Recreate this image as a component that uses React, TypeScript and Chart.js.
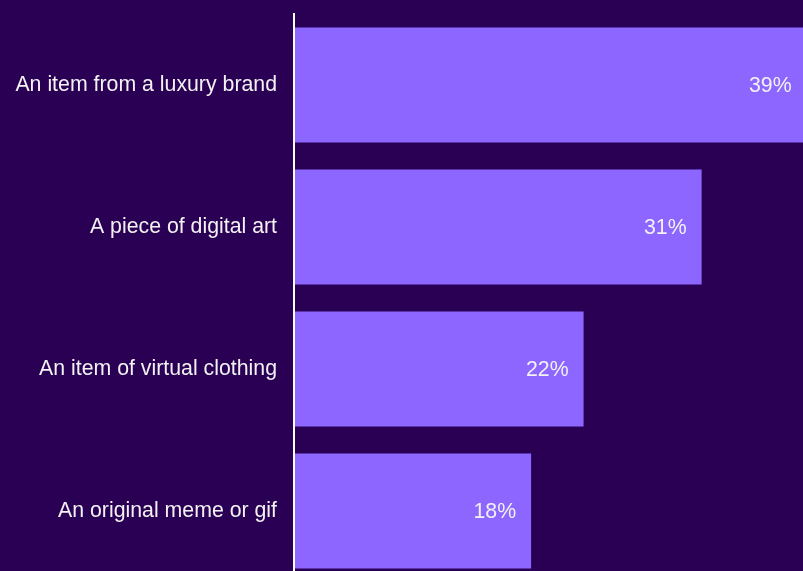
import React, { useEffect, useRef } from "react";
import { Chart, registerables } from "chart.js";

Chart.register(...registerables);

const categories = [
  "An item from a luxury brand",
  "A piece of digital art",
  "An item of virtual clothing",
  "An original meme or gif",
];
const values = [39, 31, 22, 18];
const valueLabels = ["39%", "31%", "22%", "18%"];

const BG = "#2a0055";
const BAR = "#8c66ff";
const TEXT = "#f2f2f2";
const FONT = "Liberation Sans, Arial, sans-serif";
const FONT_SIZE = 21.3;

const axisLinePlugin = {
  id: "axisLine",
  beforeDatasetsDraw(chart: any) {
    const ctx = chart.ctx;
    const area = chart.chartArea;
    ctx.save();
    ctx.strokeStyle = "#ffffff";
    ctx.lineWidth = 2;
    ctx.beginPath();
    ctx.moveTo(area.left - 1, area.top - 1);
    ctx.lineTo(area.left - 1, area.bottom);
    ctx.stroke();
    ctx.restore();
  },
};

const valueLabelPlugin = {
  id: "valueLabels",
  afterDatasetsDraw(chart: any) {
    const ctx = chart.ctx;
    const meta = chart.getDatasetMeta(0);
    ctx.save();
    ctx.fillStyle = TEXT;
    ctx.font = `${FONT_SIZE}px ${FONT}`;
    ctx.textAlign = "right";
    ctx.textBaseline = "middle";
    meta.data.forEach((bar: any, i: number) => {
      ctx.fillText(valueLabels[i], bar.x - 15, bar.y + 1.5);
    });
    ctx.restore();
  },
};

export default function App() {
  const ref = useRef<HTMLCanvasElement>(null);
  useEffect(() => {
    if (!ref.current) return;
    const chart = new Chart(ref.current, {
      type: "bar",
      data: {
        labels: categories,
        datasets: [
          {
            data: values,
            backgroundColor: BAR,
            borderWidth: 0,
            categoryPercentage: 0.81,
            barPercentage: 1,
          },
        ],
      },
      options: {
        indexAxis: "y",
        responsive: false,
        devicePixelRatio: 1,
        animation: false,
        layout: { padding: { top: 14, bottom: 18, left: 0, right: 0 } },
        plugins: { legend: { display: false }, tooltip: { enabled: false } },
        scales: {
          x: {
            display: false,
            min: 0,
            max: 40.1,
          },
          y: {
            grid: { display: false, drawTicks: false },
            border: { display: false },
            ticks: {
              color: TEXT,
              font: { family: FONT, size: FONT_SIZE },
              padding: 18,
            },
            afterFit(scale: any) {
              scale.width = 295;
              scale.paddingTop = 0;
              scale.paddingBottom = 0;
            },
          },
        },
      },
      plugins: [axisLinePlugin, valueLabelPlugin],
    });
    return () => chart.destroy();
  }, []);
  return (
    <div
      style={{
        position: "fixed",
        left: 0,
        top: 0,
        width: 803,
        height: 571,
        overflow: "hidden",
        background: BG,
      }}
    >
      <canvas ref={ref} width={821} height={600} style={{ display: "block" }} />
    </div>
  );
}
